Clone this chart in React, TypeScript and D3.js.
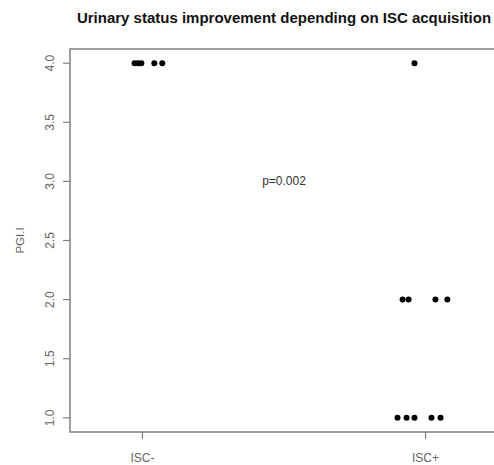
import { useEffect, useRef } from 'react'
import * as d3 from 'd3'

const W = 494, H = 465
const GROUPS = ['ISC-', 'ISC+']
// PGI.I score per patient and the horizontal jitter (in group units) seen in the plot
const ISC_MINUS_PGI = [4, 4, 4, 4, 4]
const ISC_MINUS_JITTER = [-0.028, -0.016, -0.004, 0.042, 0.070]
const ISC_PLUS_PGI = [4, 2, 2, 2, 2, 1, 1, 1, 1, 1]
const ISC_PLUS_JITTER = [-0.039, -0.081, -0.060, 0.035, 0.077, -0.099, -0.067, -0.039, 0.021, 0.053]
const Y_TICKS = [1.0, 1.5, 2.0, 2.5, 3.0, 3.5, 4.0]
const P_VALUE = 'p=0.002'

export default function App() {
  const svgRef = useRef<SVGSVGElement>(null)

  useEffect(() => {
    const svg = d3.select(svgRef.current)
    svg.selectAll('*').remove()

    const left = 70, right = 498, top = 49, bottom = 432
    // R style 4% axis extension
    const x = d3.scaleLinear().domain([0.744, 2.256]).range([left, right])
    const y = d3.scaleLinear().domain([0.88, 4.12]).range([bottom, top])

    const font = 'Liberation Sans, Arial, sans-serif'
    const axisCol = '#808080'
    const textCol = '#666'

    // title
    svg.append('text')
      .attr('x', (left + right) / 2).attr('y', 23)
      .attr('text-anchor', 'middle')
      .attr('font-family', font).attr('font-weight', 'bold').attr('font-size', 15)
      .attr('fill', '#111')
      .text('Urinary status improvement depending on ISC acquisition')

    // plot frame: the right side lies just past the picture edge
    svg.append('path')
      .attr('d', `M${W},${top}H${left}V${bottom}H${W}`)
      .attr('fill', 'none').attr('stroke', axisCol).attr('stroke-width', 1.5)

    // y axis
    const gy = svg.append('g')
    gy.selectAll('line').data(Y_TICKS).join('line')
      .attr('x1', left - 7).attr('x2', left)
      .attr('y1', d => y(d)).attr('y2', d => y(d))
      .attr('stroke', axisCol).attr('stroke-width', 1.2)
    gy.selectAll('text').data(Y_TICKS).join('text')
      .attr('transform', d => `translate(53.5,${y(d)}) rotate(-90)`)
      .attr('text-anchor', 'middle')
      .attr('font-family', font).attr('font-size', 12).attr('fill', textCol)
      .text(d => d.toFixed(1))

    svg.append('text')
      .attr('transform', `translate(24,${(top + bottom) / 2}) rotate(-90)`)
      .attr('text-anchor', 'middle')
      .attr('font-family', font).attr('font-size', 11.5).attr('fill', textCol)
      .text('PGI.I')

    // x axis
    const gx = svg.append('g')
    gx.selectAll('line').data(GROUPS).join('line')
      .attr('x1', (_, i) => x(i + 1)).attr('x2', (_, i) => x(i + 1))
      .attr('y1', bottom).attr('y2', bottom + 7)
      .attr('stroke', axisCol).attr('stroke-width', 1.2)
    gx.selectAll('text').data(GROUPS).join('text')
      .attr('x', (_, i) => x(i + 1)).attr('y', 462)
      .attr('text-anchor', 'middle')
      .attr('font-family', font).attr('font-size', 12).attr('fill', textCol)
      .text(d => d)

    // points
    const pts = [
      ...ISC_MINUS_PGI.map((v, i) => ({ g: 1, v, j: ISC_MINUS_JITTER[i] })),
      ...ISC_PLUS_PGI.map((v, i) => ({ g: 2, v, j: ISC_PLUS_JITTER[i] })),
    ]
    svg.append('g').selectAll('circle').data(pts).join('circle')
      .attr('cx', d => x(d.g + d.j)).attr('cy', d => y(d.v))
      .attr('r', 3).attr('fill', '#000')

    // p value annotation
    svg.append('text')
      .attr('x', x(1.5)).attr('y', y(3.0) + 4)
      .attr('text-anchor', 'middle')
      .attr('font-family', font).attr('font-size', 12).attr('fill', '#333')
      .text(P_VALUE)
  }, [])

  return (
    <div style={{ position: 'absolute', left: 0, top: 0, width: W, height: H, overflow: 'hidden', background: '#fff' }}>
      <svg ref={svgRef} width={W} height={H} style={{ display: 'block' }} />
    </div>
  )
}
